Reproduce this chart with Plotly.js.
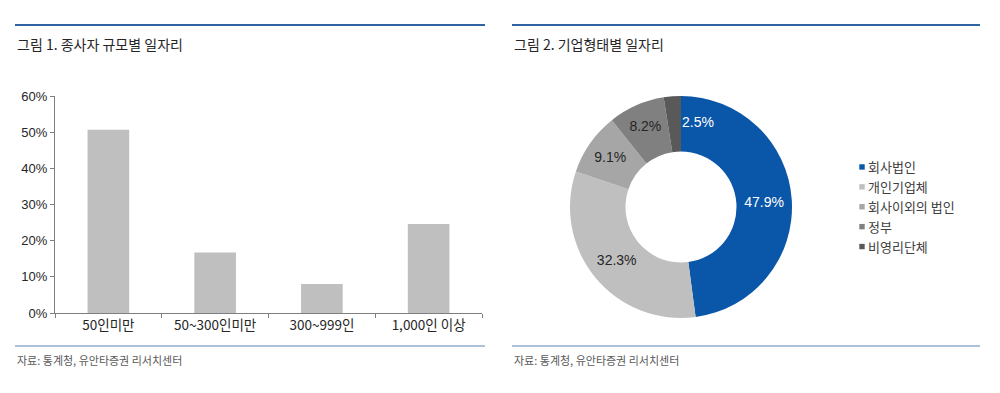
<!DOCTYPE html>
<html><head><meta charset="utf-8">
<script src="https://cdn.plot.ly/plotly-3.0.1.min.js"></script>
<style>html,body{margin:0;padding:0;background:#fff}#c{width:1000px;height:393px}</style>
</head><body><div id="c"></div>
<script>
// Figure 1 data
const sizeCategories = ['50인미만', '50~300인미만', '300~999인', '1,000인 이상'];
const sizeShares = [50.7, 16.7, 8.0, 24.6];
const yTickVals = [0, 10, 20, 30, 40, 50, 60];
// Figure 2 data
const firmTypes = ['회사법인', '개인기업체', '회사이외의 법인', '정부', '비영리단체'];
const firmShares = [47.9, 32.3, 9.1, 8.2, 2.5];
const firmColors = ['#0A56A8', '#BFBFBF', '#A6A6A6', '#808080', '#595959'];
const firmTextColors = ['#ffffff', '#262626', '#262626', '#262626', '#ffffff'];

const W = 1000, H = 393;
const px = x => x / W, py = y => 1 - y / H;
const korean = '"Noto Sans CJK KR", "Noto Sans", sans-serif';
const narrow = '"Liberation Sans Narrow", "Liberation Sans", "Noto Sans CJK KR", sans-serif';

const bar = {
  type: 'bar', x: sizeCategories, y: sizeShares,
  marker: {color: '#BFBFBF'}, showlegend: false, hoverinfo: 'skip',
  xaxis: 'x', yaxis: 'y'
};
const pie = {
  type: 'pie', labels: firmTypes, values: firmShares, hole: 0.5,
  sort: false, direction: 'clockwise', rotation: 0,
  marker: {colors: firmColors, line: {color: '#ffffff', width: 0}},
  texttemplate: firmShares.map((v, i) => i === 4 ? '' : v.toFixed(1) + '%'),
  textposition: 'inside', insidetextorientation: 'horizontal',
  textfont: {family: narrow, size: 14, color: firmTextColors},
  domain: {x: [px(570), px(792)], y: [py(318), py(96)]},
  hoverinfo: 'skip'
};

const layout = {
  width: W, height: H,
  margin: {l: 0, r: 0, t: 0, b: 0},
  paper_bgcolor: '#fff', plot_bgcolor: '#fff',
  bargap: 0.61,
  xaxis: {
    domain: [px(55), px(482)], anchor: 'y',
    type: 'category', tickson: 'boundaries',
    showline: true, linecolor: '#7f7f7f', linewidth: 1,
    ticks: 'outside', ticklen: 4, tickcolor: '#7f7f7f',
    tickfont: {family: korean, size: 13.5, color: '#262626'},
    showgrid: false, zeroline: false, fixedrange: true
  },
  yaxis: {
    domain: [py(313), py(96)], anchor: 'x',
    range: [0, 60], tickvals: yTickVals, ticktext: yTickVals.map(v => v + '%'),
    showline: true, linecolor: '#7f7f7f', linewidth: 1,
    ticks: 'outside', ticklen: 4, tickcolor: '#7f7f7f',
    tickfont: {family: narrow, size: 13, color: '#262626'},
    showgrid: false, zeroline: false, fixedrange: true
  },
  legend: {
    x: px(828), y: py(152), xanchor: 'left', yanchor: 'top',
    font: {family: korean, size: 13, color: '#404040'},
    bgcolor: 'rgba(0,0,0,0)', itemclick: false
  },
  shapes: [
    {type: 'line', xref: 'paper', yref: 'paper', x0: px(15), x1: px(485), y0: py(25), y1: py(25), line: {color: '#2E64A0', width: 2}},
    {type: 'line', xref: 'paper', yref: 'paper', x0: px(512), x1: px(980), y0: py(25), y1: py(25), line: {color: '#2E64A0', width: 2}},
    {type: 'line', xref: 'paper', yref: 'paper', x0: px(15), x1: px(485), y0: py(346), y1: py(346), line: {color: '#5B82B5', width: 1}},
    {type: 'line', xref: 'paper', yref: 'paper', x0: px(512), x1: px(980), y0: py(346), y1: py(346), line: {color: '#5B82B5', width: 1}}
  ],
  annotations: [
    {xref: 'paper', yref: 'paper', x: px(15), y: py(44), xanchor: 'left', yanchor: 'middle', showarrow: false,
     text: '그림 1. 종사자 규모별 일자리', font: {family: korean, size: 14, color: '#262626'}},
    {xref: 'paper', yref: 'paper', x: px(512), y: py(44), xanchor: 'left', yanchor: 'middle', showarrow: false,
     text: '그림 2. 기업형태별 일자리', font: {family: korean, size: 14, color: '#262626'}},
    {xref: 'paper', yref: 'paper', x: px(15), y: py(360), xanchor: 'left', yanchor: 'middle', showarrow: false,
     text: '자료: 통계청, 유안타증권 리서치센터', font: {family: korean, size: 11, color: '#595959'}},
    {xref: 'paper', yref: 'paper', x: px(512), y: py(360), xanchor: 'left', yanchor: 'middle', showarrow: false,
     text: '자료: 통계청, 유안타증권 리서치센터', font: {family: korean, size: 11, color: '#595959'}},
    {xref: 'paper', yref: 'paper', x: px(680), y: py(122), xanchor: 'left', yanchor: 'middle', showarrow: false,
     text: firmShares[4].toFixed(1) + '%', font: {family: narrow, size: 14, color: '#ffffff'}}
  ]
};

Plotly.newPlot('c', [bar, pie], layout, {staticPlot: true, displayModeBar: false}).then(() => {
  // shrink legend swatches to small squares like the reference
  document.querySelectorAll('#c .legendpoints path').forEach(p => {
    const t = p.getAttribute('transform') || '';
    p.setAttribute('transform', t + ' translate(14,0) scale(0.45)');
  });
});
</script></body></html>
